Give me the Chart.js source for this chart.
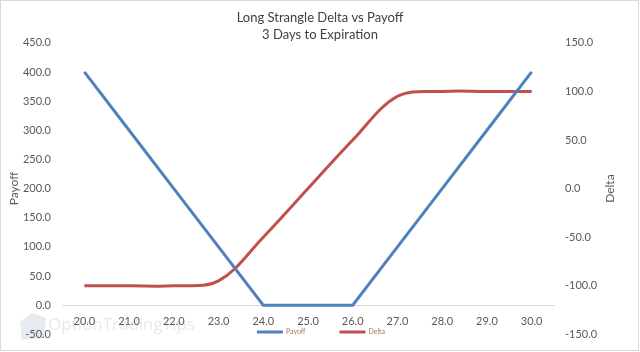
<!DOCTYPE html>
<html>
<head>
<meta charset="utf-8">
<script src="https://cdn.jsdelivr.net/npm/chart.js@4.4.1/dist/chart.umd.min.js"></script>
<style>
  html, body { margin: 0; padding: 0; background: #fff; }
  #wrap { width: 640px; height: 352px; }
</style>
</head>
<body>
<div id="wrap"><canvas id="chart" width="640" height="352"></canvas></div>
<script>
const strikes = ["20.0","21.0","22.0","23.0","24.0","25.0","26.0","27.0","28.0","29.0","30.0"];
const payoff = [400, 300, 200, 100, 0, 0, 0, 100, 200, 300, 400];
const delta = [-100, -100, -100, -95, -50, 0, 50, 95, 100, 100, 100];
const titleLines = ["Long Strangle Delta vs Payoff", "3 Days to Expiration"];

const FONT = "Lato, 'Open Sans', sans-serif";
const TEXT = "#595959";

// white background, thin frame and the faint watermark
const framePlugin = {
  id: "frame",
  beforeDraw(chart){
    const c = chart.ctx;
    c.save();
    c.fillStyle = "#fff";
    c.fillRect(0, 0, chart.width, chart.height);
    c.strokeStyle = "#d9d9d9";
    c.lineWidth = 1;
    c.strokeRect(0.5, 0.5, 638, 350);
    // watermark
    c.fillStyle = "rgba(190,195,215,0.35)";
    c.beginPath();
    c.moveTo(20, 322); c.lineTo(32, 313); c.lineTo(46, 318); c.lineTo(44, 338); c.lineTo(22, 340);
    c.closePath(); c.fill();
    c.fillStyle = "rgba(190,190,190,0.35)";
    c.font = "17px 'Open Sans', sans-serif";
    c.textBaseline = "middle";
    c.fillText("OptionTradingTips", 48, 325);
    c.restore();
  }
};

// tiny legend overlapping the bottom of the plot, like the original
const legendPlugin = {
  id: "miniLegend",
  afterDraw(chart){
    const c = chart.ctx;
    c.save();
    c.font = "7px " + FONT;
    c.textBaseline = "middle";
    const items = chart.data.datasets.map(d => ({ label: d.label, color: d.borderColor, w: 26 + 3 + c.measureText(d.label).width }));
    const gap = 34;
    const total = items.reduce((a, it) => a + it.w, 0) + gap * (items.length - 1);
    let x = 321 - total / 2;
    const y = 332;
    items.forEach(it => {
      c.strokeStyle = it.color;
      c.lineWidth = 3;
      c.beginPath(); c.moveTo(x, y); c.lineTo(x + 26, y); c.stroke();
      c.fillStyle = "#b07a5a";
      c.fillText(it.label, x + 29, y);
      x += it.w + gap;
    });
    c.restore();
  }
};

// right axis title reads bottom to top in the original
const rightTitlePlugin = {
  id: "rightTitle",
  afterDraw(chart){
    const c = chart.ctx;
    const s = chart.scales.y1;
    c.save();
    c.translate(610, (s.top + s.bottom) / 2);
    c.rotate(-Math.PI / 2);
    c.font = "12px " + FONT;
    c.fillStyle = TEXT;
    c.textAlign = "center";
    c.textBaseline = "middle";
    c.fillText("Delta", 0, 0);
    c.restore();
  }
};

const fmt = v => Number(v).toFixed(1);

new Chart(document.getElementById("chart"), {
  type: "line",
  data: {
    labels: strikes,
    datasets: [
      { label: "Payoff", data: payoff, yAxisID: "y", borderColor: "#4F81BD", backgroundColor: "#4F81BD",
        borderWidth: 3, pointRadius: 0, tension: 0 },
      { label: "Delta", data: delta, yAxisID: "y1", borderColor: "#C0504D", backgroundColor: "#C0504D",
        borderWidth: 3, pointRadius: 0, tension: 0.35 }
    ]
  },
  options: {
    responsive: false,
    animation: false,
    layout: { padding: { left: 0, right: 0, top: 0, bottom: 16 } },
    plugins: {
      legend: { display: false },
      tooltip: { enabled: false },
      title: {
        display: true,
        text: titleLines,
        color: "#404040",
        font: { family: FONT, size: 13, weight: "normal", lineHeight: 1.3 },
        padding: { top: 9, bottom: 0 }
      }
    },
    scales: {
      x: {
        type: "category",
        position: { y: 0 },
        offset: true,
        grid: { display: false, drawTicks: false },
        border: { display: true, color: "#d9d9d9", width: 1 },
        ticks: { color: TEXT, font: { family: FONT, size: 11 }, padding: 10, maxRotation: 0, autoSkip: false }
      },
      y: {
        position: "left",
        min: -50, max: 450,
        grid: { display: false, drawTicks: false },
        border: { display: false },
        ticks: { stepSize: 50, color: TEXT, font: { family: FONT, size: 11 }, padding: 11, callback: fmt },
        title: { display: true, text: "Payoff", color: TEXT, font: { family: FONT, size: 12 }, padding: { top: 7, bottom: 0 } },
        afterFit(scale){ scale.width = 62; }
      },
      y1: {
        position: "right",
        min: -150, max: 150,
        grid: { display: false, drawTicks: false },
        border: { display: false },
        ticks: { stepSize: 50, color: TEXT, font: { family: FONT, size: 11 }, padding: 11, callback: fmt },
        afterFit(scale){ scale.width = 86; }
      }
    }
  },
  plugins: [framePlugin, legendPlugin, rightTitlePlugin]
});
</script>
</body>
</html>
